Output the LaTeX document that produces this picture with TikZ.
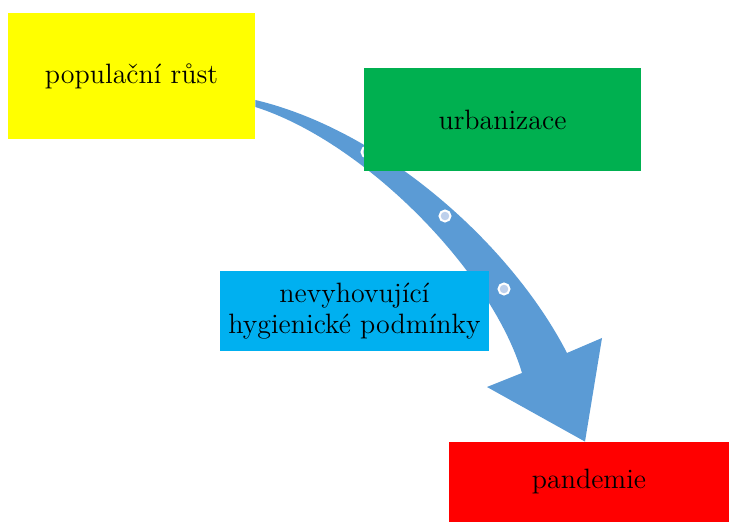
\documentclass[tikz,border=0pt]{standalone}
\usetikzlibrary{calc, backgrounds}
\definecolor{arrowblue}{HTML}{5B9BD5}
\definecolor{dotblue}{HTML}{BDD0EC}
\definecolor{boxyellow}{HTML}{FFFF00}
\definecolor{boxgreen}{HTML}{00B050}
\definecolor{boxcyan}{HTML}{00B0F0}
\definecolor{boxred}{HTML}{FF0000}
\begin{document}
\begin{tikzpicture}[x=0.5pt, y=-0.5pt,
    box/.style={inner sep=0pt, align=center, font=\fontsize{14}{15.5}\selectfont},
    bead/.style={circle, fill=dotblue, draw=white, line width=1pt, inner sep=0pt, minimum size=5.5pt}]
    \useasboundingbox (0,0) rectangle (729,522);
    \node[box, fill=boxyellow, minimum width=123.5pt, minimum height=63pt] (pop) at (131.5,76) {populační růst};
    \node[box, fill=boxgreen, minimum width=138.5pt, minimum height=51.5pt] (urb) at (502.5,119.5) {urbanizace};
    \node[box, fill=boxcyan, minimum width=134.5pt, minimum height=40pt] (hyg) at (354.5,311) {nevyhovující\\hygienické podmínky};
    \node[box, fill=boxred, minimum width=140pt, minimum height=40pt] (pan) at (589,482) {pandemie};
    % curved arrow behind the boxes
    \begin{scope}[on background layer]
        \fill[arrowblue] ($(pop.east)+(0,24)$) .. controls (385,131) and (512,246) .. (567,353)
            -- (602,338) -- ($(pan.north)+(-4,0)$) -- (487,387) -- (522,373)
            .. controls (492,272) and (365,142) .. ($(pop.east)+(0,31)$) -- cycle;
        \node[bead] (b1) at (367,152) {};
        \node[bead] (b2) at (445,216) {};
        \node[bead] (b3) at (504,289) {};
    \end{scope}
\end{tikzpicture}
\end{document}
